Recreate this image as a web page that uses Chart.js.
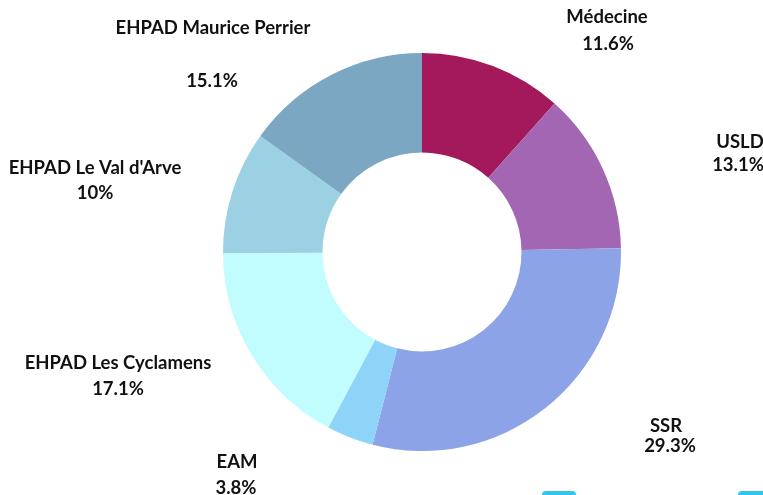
<!DOCTYPE html>
<html>
<head>
<meta charset="utf-8">
<script src="https://cdn.jsdelivr.net/npm/chart.js@4"></script>
<style>
  html, body { margin: 0; padding: 0; background: #ffffff; overflow: hidden; }
  #wrap { position: relative; width: 763px; height: 495px; }
  canvas { position: absolute; left: 0; top: 0; }
  .tab { position: absolute; top: 491px; height: 20px; background: #33c4f0; border-radius: 4px; }
</style>
</head>
<body>
<div id="wrap">
  <canvas id="c" width="763" height="495"></canvas>
  <div class="tab" style="left:542px;width:34px;"></div>
  <div class="tab" style="left:738px;width:40px;"></div>
</div>
<script>
const categories = ["Médecine", "USLD", "SSR", "EAM", "EHPAD Les Cyclamens", "EHPAD Le Val d'Arve", "EHPAD Maurice Perrier"];
const values = [11.6, 13.1, 29.3, 3.8, 17.1, 10, 15.1];
const valueLabels = ["11.6%", "13.1%", "29.3%", "3.8%", "17.1%", "10%", "15.1%"];
const colors = ["#a3195b", "#a366b3", "#8ca3e8", "#8ed3f8", "#c1fdfe", "#9bd1e3", "#7ba7c3"];

// label placement: offsets (px) from the chart centre for [name line, value line]
const labelOffsets = [
  [[185, -235], [186, -208]],
  [[318, -110], [316, -87]],
  [[244, 174], [248, 194]],
  [[-185, 210], [-186, 236]],
  [[-304, 111], [-304, 137]],
  [[-327, -84], [-327, -59]],
  [[-209, -224], [-210, -171]]
];

const labelPlugin = {
  id: 'outerLabels',
  afterDraw(chart) {
    const ctx = chart.ctx;
    const arc = chart.getDatasetMeta(0).data[0];
    const cx = arc.x, cy = arc.y;
    ctx.save();
    ctx.fillStyle = '#111111';
    ctx.textAlign = 'center';
    ctx.textBaseline = 'middle';
    ctx.font = 'bold 18.5px Lato, "Open Sans", sans-serif';
    categories.forEach((name, i) => {
      const [t, v] = labelOffsets[i];
      ctx.fillText(name, cx + t[0], cy + t[1]);
      ctx.fillText(valueLabels[i], cx + v[0], cy + v[1]);
    });
    ctx.restore();
  }
};

new Chart(document.getElementById('c'), {
  type: 'doughnut',
  data: {
    labels: categories,
    datasets: [{
      data: values,
      backgroundColor: colors,
      borderWidth: 0,
      hoverOffset: 0
    }]
  },
  options: {
    responsive: false,
    animation: false,
    cutout: '50%',
    layout: { padding: { left: 223, right: 142, top: 53, bottom: 44 } },
    plugins: {
      legend: { display: false },
      tooltip: { enabled: false }
    }
  },
  plugins: [labelPlugin]
});
</script>
</body>
</html>
